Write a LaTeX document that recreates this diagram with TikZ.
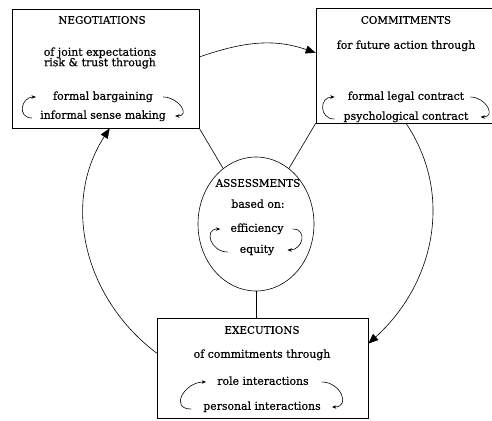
\documentclass[tikz,border=0pt]{standalone}
\usepackage{fontspec}
\setmainfont{DejaVu Serif}[FakeBold=0.4]
\usetikzlibrary{shapes,arrows.meta,positioning}
\tikzset{%
	box/.style={draw, line width=0.6pt, inner sep=0pt},
	oval/.style={ellipse, draw, line width=0.6pt, inner sep=0pt, minimum width=116pt, minimum height=134pt},
	ttl/.style={font=\fontsize{10.4}{12}\selectfont, inner sep=1pt, text height=7.5pt, text depth=0pt},
	txt/.style={font=\fontsize{10.9}{12}\selectfont, inner sep=1pt, text height=7.5pt, text depth=2pt},
	flow/.style={draw, line width=0.6pt, -{Triangle[length=10pt,width=8pt]}},
	cyc/.style={draw, line width=0.6pt, -{Stealth[length=4.5pt,width=3.5pt]}},
	tie/.style={draw, line width=0.6pt}
}
\begin{document}
\begin{tikzpicture}[x=1pt, y=1pt]
	\clip (0,0) rectangle (492,-420);
	% the four parts
	\node[box, minimum width=187pt, minimum height=119pt] (nego) at (105.5,-68.5) {};
	\node[box, minimum width=180pt, minimum height=115pt] (commit) at (406,-65.5) {};
	\node[oval] (assess) at (256,-224) {};
	\node[box, minimum width=211pt, minimum height=100pt] (exec) at (262.5,-368) {};

	% negotiations
	\node[ttl] (negoT) at (102,-20) {NEGOTIATIONS};
	\node[txt] (negoA) at (100,-53) {of joint expectations};
	\node[txt] (negoB) [below=-1.5pt of negoA] {risk \& trust through};
	\node[txt] (negoC) at (103,-97) {formal bargaining};
	\node[txt] (negoD) at (103,-116) {informal sense making};

	% commitments
	\node[ttl] (commT) at (406,-20) {COMMITMENTS};
	\node[txt] (commA) at (406,-46) {for future action through};
	\node[txt] (commC) at (406,-97) {formal legal contract};
	\node[txt] (commD) at (406,-117) {psychological contract};

	% assessments
	\node[ttl] (assT) at (258,-183) {ASSESSMENTS};
	\node[txt] (assA) at (258,-205) {based on:};
	\node[txt] (assC) at (257,-229) {efficiency};
	\node[txt] (assD) at (257,-250) {equity};

	% executions
	\node[ttl] (execT) at (262,-330) {EXECUTIONS};
	\node[txt] (execA) at (262,-355) {of commitments through};
	\node[txt] (execC) at (263,-382) {role interactions};
	\node[txt] (execD) at (262,-407) {personal interactions};

	% small cycles
	\path ([xshift=9pt]negoC.east) edge[cyc, out=0, in=0, looseness=1.8] ([xshift=8pt]negoD.east);
	\path ([xshift=-7pt,yshift=-2pt]negoD.west) edge[cyc, out=180, in=180, looseness=1.8] ([xshift=-16pt]negoC.west);
	\path ([xshift=5pt]commC.east) edge[cyc, out=0, in=0, looseness=1.8] ([xshift=11pt]commD.east);
	\path ([xshift=-8pt,yshift=-2pt]commD.west) edge[cyc, out=180, in=180, looseness=1.8] ([xshift=-12pt]commC.west);
	\path ([xshift=8pt]assC.east) edge[cyc, out=0, in=0, looseness=1.8] ([xshift=12pt]assD.east);
	\path ([xshift=-11pt,yshift=-2pt]assD.west) edge[cyc, out=180, in=180, looseness=1.8] ([xshift=-9pt]assC.west);
	\path ([xshift=12pt]execC.east) edge[cyc, out=0, in=0, looseness=1.8] ([xshift=10pt]execD.east);
	\path ([xshift=-11pt,yshift=-2pt]execD.west) edge[cyc, out=180, in=180, looseness=1.8] ([xshift=-10pt]execC.west);

	% the big round
	\path (nego.7) edge[flow, out=19, in=161] (commit.172);
	\path (commit.south) edge[flow, out=-56, in=42] (exec.13);
	\path (exec.172) edge[flow, out=143, in=237] (nego.274);

	% links to the assessments
	\path (nego.south east) edge[tie] (assess);
	\path (commit.south west) edge[tie] (assess);
	\path (assess.south) edge[tie] (assess.south |- exec.north);
\end{tikzpicture}
\end{document}
